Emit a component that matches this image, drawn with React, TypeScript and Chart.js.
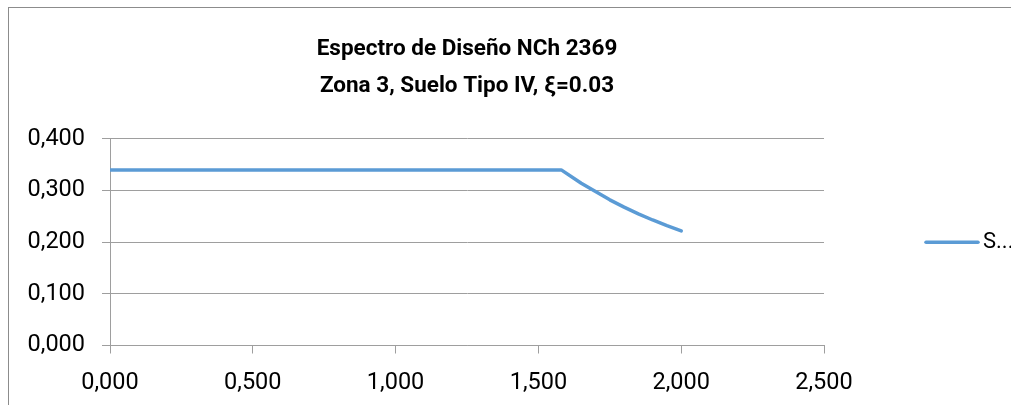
import React, { useEffect, useRef } from "react";
import { Chart, registerables } from "chart.js";

Chart.register(...registerables);

const titleLines = ["Espectro de Diseño NCh 2369", "Zona 3, Suelo Tipo IV, ξ=0.03"];
const seriesLabel = "S...";
const periodT = [0, 1.58, 1.65, 1.7, 1.75, 1.8, 1.85, 1.9, 1.95, 2.0];
const spectrumSa = [0.34, 0.34, 0.314, 0.298, 0.282, 0.268, 0.255, 0.243, 0.232, 0.222];
const xTicks = { min: 0, max: 2.5, step: 0.5 };
const yTicks = { min: 0, max: 0.4, step: 0.1 };

const FONT = "Roboto, 'Liberation Sans', sans-serif";
const GRID = "#9e9e9e";
const LINE = "#5B9BD5";

const fmt = (v: number) => Number(v).toFixed(3).replace(".", ",");

const legendPlugin = {
  id: "sideLegend",
  afterDraw(chart: any) {
    const { ctx, chartArea } = chart;
    const ds = chart.data.datasets[0];
    const y = (chartArea.top + chartArea.bottom) / 2;
    ctx.save();
    ctx.strokeStyle = ds.borderColor;
    ctx.lineWidth = 3.5;
    ctx.lineCap = "round";
    ctx.beginPath();
    ctx.moveTo(926, y);
    ctx.lineTo(978, y);
    ctx.stroke();
    ctx.fillStyle = "#000";
    ctx.font = `22px ${FONT}`;
    ctx.textBaseline = "middle";
    ctx.textAlign = "left";
    ctx.fillText(ds.label, 983, y);
    ctx.restore();
  },
};

export default function App() {
  const ref = useRef<HTMLCanvasElement>(null);
  useEffect(() => {
    if (!ref.current) return;
    const chart = new Chart(ref.current, {
      type: "line",
      data: {
        datasets: [
          {
            label: seriesLabel,
            data: periodT.map((t, i) => ({ x: t, y: spectrumSa[i] })),
            borderColor: LINE,
            backgroundColor: LINE,
            borderWidth: 3.5,
            pointRadius: 0,
            tension: 0,
            borderCapStyle: "round",
            borderJoinStyle: "round",
          },
        ],
      },
      options: {
        animation: false,
        responsive: false,
        layout: { padding: { left: 0, right: 187, top: 0, bottom: 0 } },
        plugins: {
          legend: { display: false },
          tooltip: { enabled: false },
          title: {
            display: true,
            fullSize: false,
            text: titleLines,
            color: "#000",
            font: { family: FONT, size: 22.5, weight: "bold", lineHeight: 1.62 },
            padding: { top: 31.5, bottom: 34.5 },
          },
        },
        scales: {
          x: {
            type: "linear",
            min: xTicks.min,
            max: xTicks.max,
            afterFit: (s: any) => {
              s.height = 59.5;
            },
            ticks: {
              stepSize: xTicks.step,
              color: "#000",
              font: { family: FONT, size: 23.5 },
              padding: 16,
              maxRotation: 0,
              callback: (v: any) => fmt(v),
            },
            grid: { drawOnChartArea: false, drawTicks: true, tickLength: 8, color: GRID },
            border: { display: true, color: GRID },
          },
          y: {
            type: "linear",
            min: yTicks.min,
            max: yTicks.max,
            afterFit: (s: any) => {
              s.width = 110;
            },
            ticks: {
              stepSize: yTicks.step,
              color: "#000",
              font: { family: FONT, size: 23.5 },
              padding: 17,
              callback: (v: any) => fmt(v),
            },
            grid: { color: GRID, tickLength: 8 },
            border: { display: true, color: GRID },
          },
        },
      },
      plugins: [legendPlugin],
    } as any);
    return () => chart.destroy();
  }, []);

  return (
    <div style={{ position: "fixed", left: 0, top: 0, width: 1011, height: 405, overflow: "hidden", background: "#fff" }}>
      <canvas ref={ref} width={1011} height={405} style={{ position: "absolute", left: 0, top: 0, width: 1011, height: 405 }} />
      <div
        style={{
          position: "absolute",
          left: 8,
          top: 7,
          width: 2000,
          height: 2000,
          borderLeft: "1px solid #8c8c8c",
          borderTop: "1px solid #8c8c8c",
          pointerEvents: "none",
        }}
      />
    </div>
  );
}
